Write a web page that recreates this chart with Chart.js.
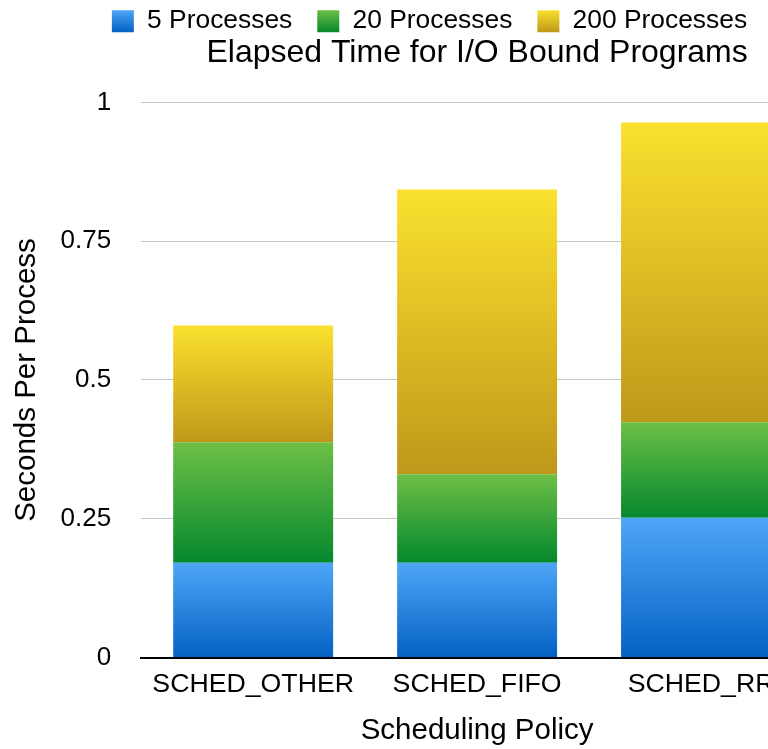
<!DOCTYPE html>
<html>
<head>
<meta charset="utf-8">
<script src="https://cdn.jsdelivr.net/npm/chart.js@4/dist/chart.umd.min.js"></script>
<style>
  html, body { margin: 0; padding: 0; background: #fff; overflow: hidden; }
  #wrap { width: 768px; height: 749px; overflow: hidden; }
  canvas { display: block; }
</style>
</head>
<body>
<div id="wrap"><canvas id="chart" width="859" height="749"></canvas></div>
<script>
// Scheduling policies on the x axis
const categories = ['SCHED_OTHER', 'SCHED_FIFO', 'SCHED_RR'];

// Seconds per process contributed by each run size (stacked)
const fiveProcesses = [0.171, 0.171, 0.252];
const twentyProcesses = [0.217, 0.159, 0.172];
const twoHundredProcesses = [0.210, 0.513, 0.540];

const seriesNames = ['5 Processes', '20 Processes', '200 Processes'];
const yTicks = [0, 0.25, 0.5, 0.75, 1];
const yTickLabels = ['0', '0.25', '0.5', '0.75', '1'];

// light (top) / dark (bottom) colour pair for each series
const palettes = [
  ['#4fa6f8', '#0461c3'],
  ['#6dbf46', '#05882d'],
  ['#fae12e', '#be981a']
];

const seriesValues = [fiveProcesses, twentyProcesses, twoHundredProcesses];

function segmentGradient(ctx) {
  const chart = ctx.chart;
  const pal = palettes[ctx.datasetIndex];
  if (!chart.chartArea || ctx.dataIndex === undefined) return pal[1];
  const y = chart.scales.y;
  let base = 0;
  for (let d = 0; d < ctx.datasetIndex; d++) base += seriesValues[d][ctx.dataIndex];
  const top = base + seriesValues[ctx.datasetIndex][ctx.dataIndex];
  const y0 = y.getPixelForValue(top);
  const y1 = y.getPixelForValue(base);
  const g = chart.ctx.createLinearGradient(0, y0, 0, y1);
  g.addColorStop(0, pal[0]);
  g.addColorStop(1, pal[1]);
  return g;
}

const font = 'Liberation Sans, Arial, Helvetica, sans-serif';
const ctx2d = document.getElementById('chart').getContext('2d');

new Chart(ctx2d, {
  type: 'bar',
  data: {
    labels: categories,
    datasets: seriesValues.map((vals, i) => ({
      label: seriesNames[i],
      data: vals,
      backgroundColor: segmentGradient,
      borderWidth: 0,
      categoryPercentage: 1,
      barPercentage: 160 / 224
    }))
  },
  options: {
    responsive: false,
    animation: false,
    devicePixelRatio: 1,
    layout: { padding: { top: -17, left: 0, right: 0, bottom: 0 } },
    plugins: {
      tooltip: { enabled: false },
      legend: {
        position: 'top',
        weight: 3000,
        labels: {
          color: '#000',
          font: { family: font, size: 26.4 },
          boxWidth: 22,
          boxHeight: 22,
          padding: 25,
          generateLabels(chart) {
            return chart.data.datasets.map((ds, i) => {
              const g = chart.ctx.createLinearGradient(0, 10, 0, 32);
              g.addColorStop(0, palettes[i][0]);
              g.addColorStop(1, palettes[i][1]);
              return {
                text: ds.label,
                fillStyle: g,
                strokeStyle: 'rgba(0,0,0,0)',
                lineWidth: 0,
                datasetIndex: i,
                hidden: false
              };
            });
          }
        }
      },
      title: {
        display: true,
        text: 'Elapsed Time for I/O Bound Programs',
        color: '#000',
        fullSize: false,
        weight: 500,
        font: { family: font, size: 32, weight: 'normal', lineHeight: 1 },
        padding: { top: -7.5, bottom: 33.5 }
      }
    },
    scales: {
      x: {
        stacked: true,
        grid: { display: false },
        border: { display: true, color: '#000', width: 2 },
        ticks: {
          color: '#000',
          font: { family: font, size: 26.7 },
          padding: 3,
          maxRotation: 0,
          autoSkip: false
        },
        title: {
          display: true,
          text: 'Scheduling Policy',
          color: '#000',
          font: { family: font, size: 29.5 },
          padding: { top: 10, bottom: 0 }
        }
      },
      y: {
        stacked: true,
        min: 0,
        max: 1,
        afterBuildTicks(scale) {
          scale.ticks = yTicks.map(v => ({ value: v }));
        },
        grid: { color: '#c8c8c8', lineWidth: 1, drawTicks: false },
        border: { display: false },
        ticks: {
          color: '#000',
          font: { family: font, size: 26 },
          padding: 30,
          callback(value) {
            const i = yTicks.indexOf(value);
            return i >= 0 ? yTickLabels[i] : '';
          }
        },
        title: {
          display: true,
          text: 'Seconds Per Process',
          color: '#000',
          font: { family: font, size: 29.5 },
          padding: { top: 9, bottom: -13.8 }
        }
      },
      // empty band on the right of the plot
      yRight: {
        type: 'linear',
        position: 'right',
        display: true,
        grid: { display: false },
        border: { display: false },
        ticks: { display: false },
        afterFit(scale) { scale.width = 46; }
      }
    }
  }
});
</script>
</body>
</html>
